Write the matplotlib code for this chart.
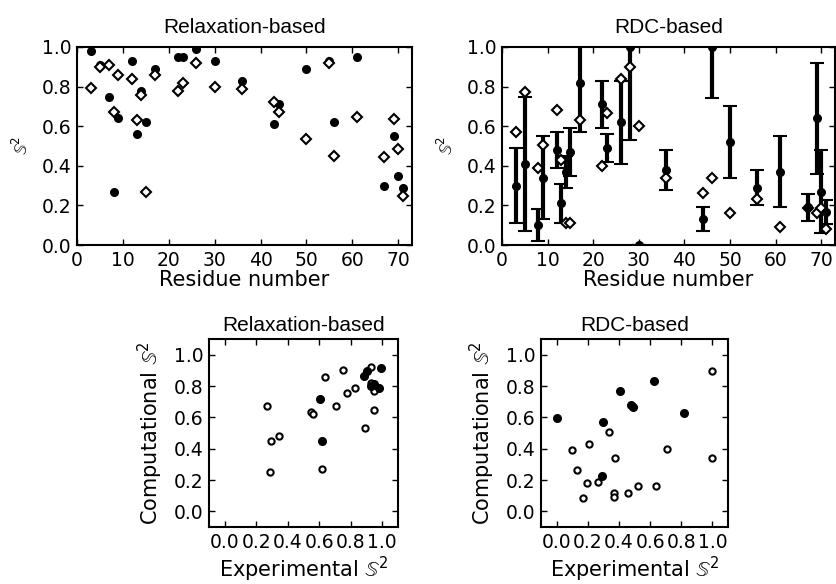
import matplotlib
matplotlib.use('Agg')
import matplotlib.pyplot as plt
import numpy as np

# relaxation-based order parameters per residue
relax_res = [3, 5, 7, 8, 9, 12, 13, 14, 15, 17, 22, 23, 26, 30, 36, 43, 44, 50,
             55, 56, 61, 67, 69, 70, 71]
relax_comp = [0.98, 0.91, 0.75, 0.27, 0.64, 0.93, 0.56, 0.78, 0.62, 0.89, 0.95, 0.95,
              0.99, 0.93, 0.83, 0.61, 0.71, 0.89, 0.93, 0.62, 0.95, 0.30, 0.55, 0.35, 0.29]
relax_exp = [0.795, 0.90, 0.91, 0.67, 0.86, 0.84, 0.63, 0.76, 0.27, 0.86, 0.78, 0.82,
             0.92, 0.80, 0.79, 0.72, 0.67, 0.535, 0.92, 0.45, 0.645, 0.446, 0.636, 0.483, 0.25]

# RDC-based order parameters per residue, with error bars
rdc_res = [3, 5, 8, 9, 12, 13, 14, 15, 17, 22, 23, 26, 28, 30, 36, 44, 46, 50,
           56, 61, 67, 69, 70, 71]
rdc_comp = [0.30, 0.41, 0.10, 0.34, 0.48, 0.21, 0.37, 0.47, 0.82, 0.71, 0.49, 0.62,
            1.00, 0.00, 0.38, 0.13, 1.00, 0.52, 0.29, 0.37, 0.19, 0.64, 0.27, 0.165]
rdc_err = [0.19, 0.34, 0.08, 0.21, 0.09, 0.10, 0.08, 0.12, 0.25, 0.12, 0.07, 0.21,
           0.47, 0.0, 0.10, 0.06, 0.26, 0.18, 0.09, 0.18, 0.07, 0.28, 0.21, 0.06]
rdc_exp = [0.57, 0.773, 0.39, 0.505, 0.68, 0.43, 0.11, 0.11, 0.63, 0.40, 0.667, 0.837,
           0.90, 0.60, 0.34, 0.265, 0.34, 0.16, 0.23, 0.09, 0.185, 0.16, 0.185, 0.08]

# experimental vs computational, relaxation-based
rel_open_x = [0.267, 0.295, 0.346, 0.286, 0.62, 0.545, 0.558, 0.639, 0.707, 0.75,
              0.778, 0.83, 0.889, 0.949, 0.93, 0.93, 0.949]
rel_open_y = [0.67, 0.446, 0.48, 0.248, 0.27, 0.637, 0.622, 0.855, 0.67, 0.904,
              0.754, 0.785, 0.535, 0.645, 0.919, 0.82, 0.77]
rel_fill_x = [0.605, 0.617, 0.887, 0.906, 0.99, 0.927, 0.95, 0.98]
rel_fill_y = [0.72, 0.45, 0.862, 0.898, 0.915, 0.80, 0.81, 0.79]

# experimental vs computational, RDC-based
rdc_open_x = [0.098, 0.128, 0.168, 0.197, 0.208, 0.268, 0.338, 0.378, 0.367, 0.367,
              0.46, 0.52, 0.638, 0.708, 1.0, 1.0]
rdc_open_y = [0.393, 0.263, 0.083, 0.183, 0.43, 0.19, 0.505, 0.34, 0.115, 0.09,
              0.115, 0.16, 0.16, 0.40, 0.896, 0.34]
rdc_fill_x = [0.0, 0.41, 0.296, 0.29, 0.478, 0.489, 0.627, 0.82]
rdc_fill_y = [0.594, 0.77, 0.57, 0.227, 0.68, 0.665, 0.834, 0.63]

S2 = r'$\mathbb{S}^2$'
TITLE_FONT = dict(family='Liberation Sans', size=15)


def style_axes(ax):
    for sp in ax.spines.values():
        sp.set_linewidth(1.5)
    ax.tick_params(direction='in', top=True, right=True, length=4, width=1,
                   labelsize=13.5, pad=4)


fig = plt.figure(figsize=(8.37, 5.84), dpi=100)
W, H = 837.0, 584.0

# top row: S2 vs residue
ax1 = fig.add_axes([77 / W, 1 - 245 / H, 335 / W, 198 / H])
ax1.plot(relax_res, relax_comp, 'o', color='black', ms=5.5, mec='black')
ax1.plot(relax_res, relax_exp, 'D', mfc='white', mec='black', mew=1.5, ms=5)
ax1.set_title('Relaxation-based', fontdict=TITLE_FONT, pad=10)

ax2 = fig.add_axes([502 / W, 1 - 245 / H, 333 / W, 198 / H])
ax2.errorbar(rdc_res, rdc_comp, yerr=rdc_err, fmt='o', color='black', ms=5.5,
             elinewidth=3, capsize=5, capthick=1.5)
ax2.plot(rdc_res, rdc_exp, 'D', mfc='white', mec='black', mew=1.5, ms=5)
ax2.set_title('RDC-based', fontdict=TITLE_FONT, pad=10)

for ax in (ax1, ax2):
    style_axes(ax)
    ax.set_xlim(0, 73)
    ax.set_ylim(0, 1)
    ax.set_xticks(np.arange(0, 71, 10))
    ax.set_yticks(np.arange(0, 1.01, 0.2))
    ax.set_xlabel('Residue number', fontsize=15, labelpad=0)
    ax.set_ylabel(S2, fontsize=12, labelpad=7)

# bottom row: computational vs experimental
ax3 = fig.add_axes([209 / W, 57 / H, 189 / W, 188 / H])
ax3.plot(rel_open_x, rel_open_y, 'o', mfc='white', mec='black', mew=1.5, ms=4.5)
ax3.plot(rel_fill_x, rel_fill_y, 'o', color='black', ms=5.5)
ax3.set_title('Relaxation-based', fontdict=TITLE_FONT, pad=6)

ax4 = fig.add_axes([541 / W, 57 / H, 187 / W, 188 / H])
ax4.plot(rdc_open_x, rdc_open_y, 'o', mfc='white', mec='black', mew=1.5, ms=4.5)
ax4.plot(rdc_fill_x, rdc_fill_y, 'o', color='black', ms=5.5)
ax4.set_title('RDC-based', fontdict=TITLE_FONT, pad=6)

for ax in (ax3, ax4):
    style_axes(ax)
    ax.set_xlim(-0.1, 1.1)
    ax.set_ylim(-0.1, 1.1)
    ax.set_xticks(np.arange(0, 1.01, 0.2))
    ax.set_yticks(np.arange(0, 1.01, 0.2))
    ax.set_xlabel('Experimental ' + S2, fontsize=15, labelpad=2)
    ax.set_ylabel('Computational ' + S2, fontsize=15, labelpad=6)

fig.savefig('out.png', dpi=100)
